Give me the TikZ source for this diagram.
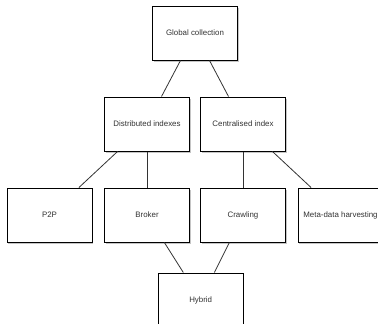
\documentclass[tikz,border=0pt]{standalone}
\usepackage{fontspec}
\setmainfont{Liberation Sans}
\usepackage{tikz}
\usetikzlibrary{positioning,shadows}
\definecolor{ink}{RGB}{51, 51, 51}
\tikzstyle{concept} = [rectangle, draw=black, line width=1pt, fill=white, text=ink, text centered, font=\fontsize{7.9}{9}\selectfont, minimum width=85pt, minimum height=54pt, inner sep=0pt, drop shadow={shadow xshift=1.2pt, shadow yshift=-1.5pt, fill=black!45}]
\tikzstyle{cedge} = [draw, ink, line width=0.8pt]
\begin{document}
\begin{tikzpicture}[auto]

\useasboundingbox (0,0) rectangle (378pt,-324pt);

% top level =============================
\node[concept] (global) at (195pt,-33pt) {Global collection};

% index kinds
\node[concept, below=36pt of global, xshift=-48pt] (dist) {Distributed indexes};
\node[concept, below=36pt of global, xshift=48pt] (central) {Centralised index};

% approaches
\node[concept, below left=36pt and 11.5pt of dist] (p2p) {P2P};
\node[concept, below=36pt of dist] (broker) {Broker};
\node[concept, below=36pt of central] (crawl) {Crawling};
\node[concept, below right=36pt and 11.5pt of central] (meta) {Meta-data harvesting};

% hybrid
\node[concept, below=30pt of broker, xshift=53.7pt] (hybrid) {Hybrid};

%edges
\path[cedge] (global) -- (dist);
\path[cedge] (global) -- (central);

\path[cedge] (dist) -- (p2p);
\path[cedge] (dist) -- (broker);
\path[cedge] (central) -- (crawl);
\path[cedge] (central) -- (meta);

\path[cedge] (broker) -- (hybrid);
\path[cedge] (crawl) -- (hybrid);

\end{tikzpicture}
\end{document}
